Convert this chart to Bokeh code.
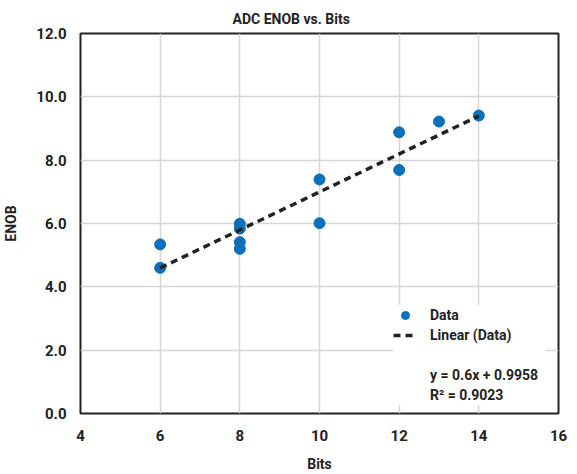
from bokeh.plotting import figure
from bokeh.models import Legend, LegendItem, Range1d, FixedTicker, PrintfTickFormatter
from bokeh.embed import file_html
from bokeh.resources import INLINE

bits = [6, 6, 8, 8, 8, 8, 10, 10, 12, 12, 13, 14]
enob = [5.34, 4.60, 5.99, 5.84, 5.41, 5.20, 7.39, 6.01, 8.88, 7.69, 9.22, 9.41]
slope = 0.6
intercept = 0.9958
fit_x = [6, 14]
fit_y = [slope * v + intercept for v in fit_x]
eq_text = "y = 0.6x + 0.9958"
r2_text = "R\u00b2 = 0.9023"
x_ticks = [4, 6, 8, 10, 12, 14, 16]
y_ticks = [0, 2, 4, 6, 8, 10, 12]

FONT = "Roboto"
TXT = "#222222"

p = figure(width=577, height=474, output_backend="svg", toolbar_location=None,
           x_range=Range1d(4, 16), y_range=Range1d(0, 12),
           min_border_left=10, min_border_right=19, min_border_top=33, min_border_bottom=10)
p.title.text = "ADC ENOB vs. Bits"
p.title.align = "left"
p.title.text_font = FONT
p.title.text_font_size = "14px"
p.title.text_font_style = "bold"
p.title.text_color = TXT
p.title.offset = 152
p.title.standoff = 14

p.outline_line_color = "#222222"
p.outline_line_width = 2
p.grid.grid_line_color = "#d6d6d6"
p.grid.grid_line_width = 1.5

p.xaxis.ticker = FixedTicker(ticks=x_ticks)
p.yaxis.ticker = FixedTicker(ticks=y_ticks)
p.yaxis.formatter = PrintfTickFormatter(format="%.1f")
for ax in (p.xaxis, p.yaxis):
    ax.axis_line_color = None
    ax.major_tick_line_color = None
    ax.minor_tick_line_color = None
    ax.major_label_text_font = FONT
    ax.major_label_text_font_style = "bold"
    ax.major_label_text_font_size = "15px"
    ax.major_label_text_color = TXT
    ax.axis_label_text_font = FONT
    ax.axis_label_text_font_style = "bold"
    ax.axis_label_text_font_size = "14px"
    ax.axis_label_text_color = TXT
p.xaxis.axis_label = "Bits"
p.yaxis.axis_label = "ENOB"
p.xaxis.major_label_standoff = 10
p.yaxis.major_label_standoff = 8
p.xaxis.axis_label_standoff = 12
p.yaxis.axis_label_standoff = 14

pts = p.scatter(bits, enob, size=11, color="#0b6fbb", line_color="#0b6fbb")
ln = p.line(fit_x, fit_y, line_color="#222222", line_width=3.5, line_dash="7 5")
blank = p.scatter([], [], fill_alpha=0, line_alpha=0)

legend = Legend(items=[LegendItem(label="Data", renderers=[pts]),
                       LegendItem(label="Linear (Data)", renderers=[ln]),
                       LegendItem(label=" ", renderers=[blank]),
                       LegendItem(label=eq_text, renderers=[blank]),
                       LegendItem(label=r2_text, renderers=[blank])],
                location=(313, 8),
                label_text_font=FONT, label_text_font_style="bold",
                label_text_font_size="14px", label_text_color=TXT,
                background_fill_color="white", background_fill_alpha=1,
                border_line_color=None, glyph_width=24, glyph_height=20,
                label_height=20, label_width=115, label_standoff=13,
                spacing=0, padding=6)
p.add_layout(legend)

open("out.html", "w").write(file_html(p, INLINE))
